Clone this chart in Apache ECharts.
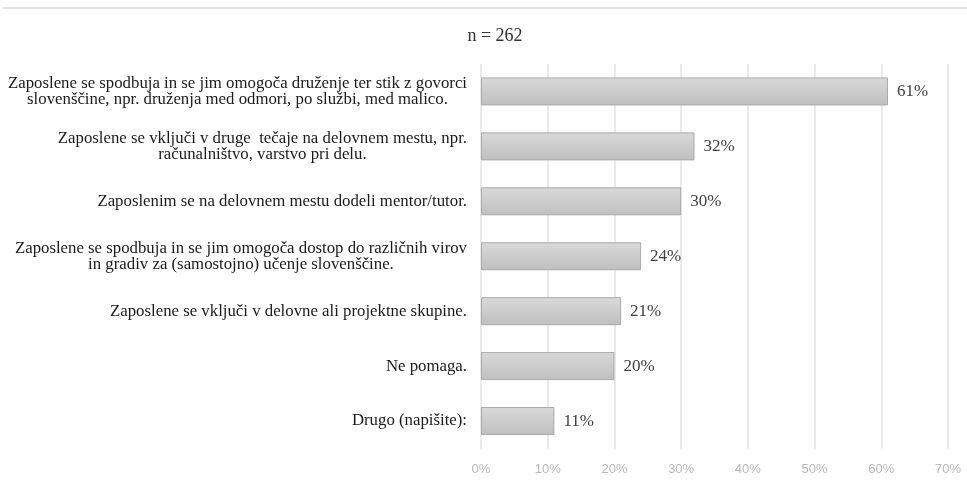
<!DOCTYPE html>
<html>
<head>
<meta charset="utf-8">
<script src="https://cdn.jsdelivr.net/npm/echarts@6/dist/echarts.min.js"></script>
<style>html,body{margin:0;padding:0;background:#fff}#c{width:967px;height:480px}</style>
</head>
<body>
<div id="c"></div>
<script>
var titleText = 'n = 262';
var categories = [
  'Zaposlene se spodbuja in se jim omogoča druženje ter stik z govorci\nslovenščine, npr. druženja med odmori, po službi, med malico.',
  'Zaposlene se vključi v druge  tečaje na delovnem mestu, npr.\nračunalništvo, varstvo pri delu.',
  'Zaposlenim se na delovnem mestu dodeli mentor/tutor.',
  'Zaposlene se spodbuja in se jim omogoča dostop do različnih virov\nin gradiv za (samostojno) učenje slovenščine.',
  'Zaposlene se vključi v delovne ali projektne skupine.',
  'Ne pomaga.',
  'Drugo (napišite):'
];
var values = [61, 32, 30, 24, 21, 20, 11];
var xTicks = [0, 10, 20, 30, 40, 50, 60, 70];

var chart = echarts.init(document.getElementById('c'));
var serif = '"Liberation Serif", "DejaVu Serif", serif';
chart.setOption({
  animation: false,
  backgroundColor: '#fff',
  title: {
    text: titleText, left: 490, top: 22, textAlign: 'center',
    textStyle: { fontFamily: serif, fontSize: 18, fontWeight: 'normal', color: '#333' }
  },
  graphic: [{
    type: 'line', shape: { x1: 3, y1: 8, x2: 967, y2: 8 },
    style: { stroke: '#e2e2e2', lineWidth: 2 }
  }],
  grid: { left: 481, right: 19, top: 64, bottom: 31.5, containLabel: false },
  xAxis: {
    type: 'value', min: xTicks[0], max: xTicks[xTicks.length - 1], interval: 10,
    axisLine: { show: false }, axisTick: { show: false },
    splitLine: { show: true, lineStyle: { color: '#e3e3e3', width: 1.5 } },
    axisLabel: {
      formatter: '{value}%', color: '#b8b8b8', fontSize: 13, margin: 14,
      fontFamily: '"Liberation Sans", Arial, sans-serif'
    }
  },
  yAxis: {
    type: 'category', inverse: true, data: categories,
    axisLine: { show: false }, axisTick: { show: false },
    axisLabel: {
      margin: 14, color: '#1a1a1a', fontFamily: serif, fontSize: 16.8, lineHeight: 16,
      align: 'right',
      formatter: function (v) {
        return v.split('\n').map(function (l) { return '{c|' + l + '}'; }).join('\n');
      },
      rich: { c: { align: 'center', fontFamily: serif, fontSize: 16.8, lineHeight: 16, color: '#1a1a1a' } }
    }
  },
  series: [{
    type: 'bar', data: values, barWidth: 28,
    itemStyle: {
      color: new echarts.graphic.LinearGradient(0, 0, 0, 1, [
        { offset: 0, color: '#d9d9d9' }, { offset: 1, color: '#bfbfbf' }
      ]),
      borderColor: '#a9a9a9', borderWidth: 1
    },
    label: {
      show: true, position: 'right', distance: 9, formatter: '{c}%',
      fontFamily: serif, fontSize: 17, color: '#404040'
    }
  }]
});
</script>
</body>
</html>
